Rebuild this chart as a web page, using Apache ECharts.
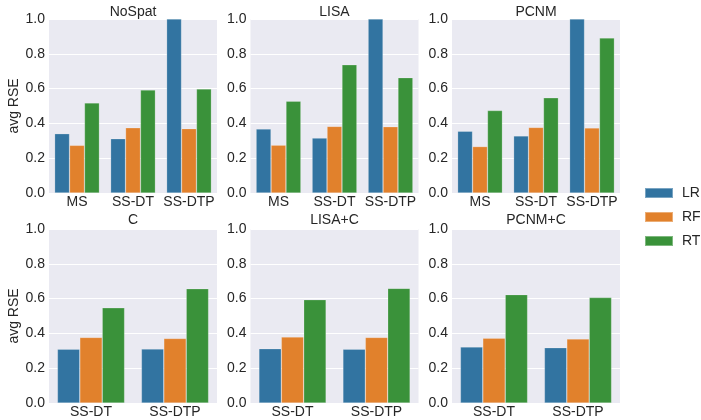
<!DOCTYPE html>
<html>
<head>
<meta charset="utf-8">
<script src="https://cdn.jsdelivr.net/npm/echarts@6/dist/echarts.min.js"></script>
<style>html,body{margin:0;padding:0;background:#fff;}#c{width:701px;height:420px;}</style>
</head>
<body>
<div id="c"></div>
<script>
const panelTitles = ['NoSpat', 'LISA', 'PCNM', 'C', 'LISA+C', 'PCNM+C'];
const topCategories = ['MS', 'SS-DT', 'SS-DTP'];
const bottomCategories = ['SS-DT', 'SS-DTP'];
const seriesNames = ['LR', 'RF', 'RT'];
const yTicks = [0, 0.2, 0.4, 0.6, 0.8, 1.0];
// values per panel (same order as panelTitles)
const lrValues = [
  [0.341, 0.312, 1.0],
  [0.368, 0.316, 1.0],
  [0.355, 0.328, 1.0],
  [0.309, 0.310],
  [0.312, 0.309],
  [0.322, 0.318]
];
const rfValues = [
  [0.274, 0.375, 0.370],
  [0.275, 0.383, 0.381],
  [0.267, 0.377, 0.374],
  [0.377, 0.371],
  [0.379, 0.377],
  [0.373, 0.368]
];
const rtValues = [
  [0.518, 0.592, 0.598],
  [0.528, 0.737, 0.663],
  [0.474, 0.547, 0.891],
  [0.547, 0.657],
  [0.594, 0.659],
  [0.623, 0.606]
];
const colors = ['#3274A1', '#E1812C', '#3A923A'];
const textColor = '#262626';
const font = 'Liberation Sans, Arial, sans-serif';
const fs = 14;

const colLefts = [49, 250.5, 452];
const rowTops = [19, 229];
const plotW = 168, plotH = 174;

const grids = [], xAxes = [], yAxes = [], series = [], titles = [];
const valueSets = [lrValues, rfValues, rtValues];
for (let p = 0; p < 6; p++) {
  const row = Math.floor(p / 3), col = p % 3;
  const cats = row === 0 ? topCategories : bottomCategories;
  grids.push({left: colLefts[col], top: rowTops[row], width: plotW, height: plotH,
    show: true, backgroundColor: '#EAEAF2', borderWidth: 0});
  titles.push({text: panelTitles[p], left: colLefts[col] + plotW / 2, top: rowTops[row] - (row === 0 ? 14 : 16),
    textAlign: 'center', padding: 0,
    textStyle: {fontSize: fs, fontWeight: 'normal', color: textColor, fontFamily: font}});
  xAxes.push({type: 'category', gridIndex: p, data: cats,
    axisLine: {show: false}, axisTick: {show: false}, splitLine: {show: false},
    axisLabel: {color: textColor, fontSize: fs, fontFamily: font, margin: 2, interval: 0}});
  yAxes.push({type: 'value', gridIndex: p, min: yTicks[0], max: yTicks[yTicks.length - 1], interval: 0.2,
    name: col === 0 ? 'avg RSE' : '', nameLocation: 'middle', nameGap: 26,
    nameTextStyle: {color: textColor, fontSize: fs, fontFamily: font},
    axisLine: {show: false}, axisTick: {show: false},
    splitLine: {show: true, lineStyle: {color: '#ffffff', width: 1}},
    axisLabel: {color: textColor, fontSize: fs, fontFamily: font, margin: 4,
      formatter: v => v.toFixed(1)}});
  for (let s = 0; s < 3; s++) {
    series.push({type: 'bar', name: seriesNames[s], xAxisIndex: p, yAxisIndex: p,
      data: valueSets[s][p], barGap: '0%', barCategoryGap: '20%',
      itemStyle: {color: colors[s], borderColor: 'rgba(255,255,255,0.35)', borderWidth: 0.6},
      clip: true, animation: false});
  }
}

const chart = echarts.init(document.getElementById('c'), null, {renderer: 'canvas'});
chart.setOption({
  animation: false,
  backgroundColor: '#ffffff',
  title: titles,
  grid: grids,
  xAxis: xAxes,
  yAxis: yAxes,
  series: series,
  legend: {data: seriesNames, orient: 'vertical', left: 644, top: 186, padding: 0,
    itemWidth: 28, itemHeight: 10, itemGap: 10,
    icon: 'rect',
    textStyle: {color: textColor, fontSize: fs, fontFamily: font, padding: [0, 0, 0, 4]}}
});
</script>
</body>
</html>
